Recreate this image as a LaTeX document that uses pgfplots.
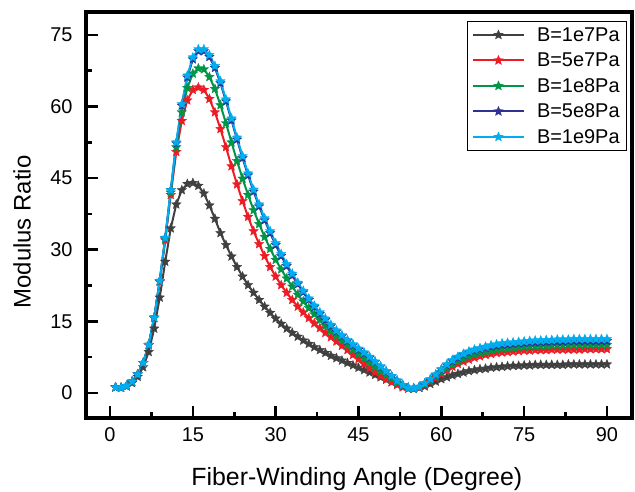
\documentclass[border=0pt]{standalone}
\usepackage{pgfplots}
\pgfplotsset{compat=1.18}
\usepackage{pgfplotstable}
\usepackage{fontspec}
\setmainfont{Liberation Sans}
\definecolor{cK}{RGB}{64,64,64}
\definecolor{cR}{RGB}{237,28,36}
\definecolor{cG}{RGB}{0,150,70}
\definecolor{cD}{RGB}{46,49,146}
\definecolor{cL}{RGB}{0,174,239}
\pgfdeclareplotmark{fstar}{%
 \pgfpathmoveto{\pgfpointpolar{90}{\pgfplotmarksize}}%
 \pgfpathlineto{\pgfpointpolar{126}{0.45\pgfplotmarksize}}%
 \pgfpathlineto{\pgfpointpolar{162}{\pgfplotmarksize}}%
 \pgfpathlineto{\pgfpointpolar{198}{0.45\pgfplotmarksize}}%
 \pgfpathlineto{\pgfpointpolar{234}{\pgfplotmarksize}}%
 \pgfpathlineto{\pgfpointpolar{270}{0.45\pgfplotmarksize}}%
 \pgfpathlineto{\pgfpointpolar{306}{\pgfplotmarksize}}%
 \pgfpathlineto{\pgfpointpolar{342}{0.45\pgfplotmarksize}}%
 \pgfpathlineto{\pgfpointpolar{18}{\pgfplotmarksize}}%
 \pgfpathlineto{\pgfpointpolar{54}{0.45\pgfplotmarksize}}%
 \pgfpathclose
 \pgfusepathqfillstroke}
\pgfplotstableread{
x K R G D L
1 1.2 1.2 1.2 1.2 1.2
2 1.1 1.1 1.1 1.1 1.1
3 1.4 1.5 1.5 1.5 1.5
4 2.1 2.4 2.4 2.4 2.4
5 3.4 3.9 3.9 3.9 3.9
6 5.4 6.3 6.3 6.3 6.3
7 8.6 10.0 10.1 10.1 10.1
8 13.5 15.7 15.8 15.8 15.8
9 20.0 23.3 23.4 23.5 23.5
10 27.5 32.0 32.3 32.5 32.5
11 34.5 41.5 42.0 42.5 42.5
12 39.5 50.5 51.5 52.3 52.5
13 42.5 57.0 58.8 60.2 60.5
14 43.8 61.3 63.9 66.1 66.5
15 44.0 63.5 66.9 69.9 70.3
16 43.4 64.0 68.0 71.6 72.0
17 41.8 63.5 67.8 71.6 72.0
18 39.3 61.6 66.2 70.4 70.8
19 36.5 58.8 63.7 68.1 68.5
20 33.5 55.3 60.3 64.9 65.3
21 31.0 51.5 56.5 61.1 61.5
22 28.6 47.5 52.5 57.1 57.5
23 26.4 43.7 48.6 53.1 53.5
24 24.4 40.2 44.9 49.2 49.6
25 22.6 36.9 41.5 45.6 46.0
26 21.0 33.9 38.3 42.2 42.6
27 19.5 31.2 35.4 39.1 39.5
28 18.1 28.7 32.7 36.2 36.6
29 16.8 26.4 30.2 33.5 33.9
30 15.6 24.4 27.9 31.0 31.4
31 14.5 22.6 25.9 28.7 29.1
32 13.5 21.0 24.0 26.6 27.0
33 12.6 19.5 22.3 24.6 25.0
34 11.8 18.1 20.6 22.8 23.1
35 11.0 16.9 19.2 21.1 21.4
36 10.3 15.7 17.8 19.5 19.8
37 9.6 14.6 16.5 18.0 18.3
38 9.0 13.6 15.3 16.6 16.9
39 8.4 12.6 14.1 15.3 15.6
40 7.8 11.7 13.0 14.0 14.3
41 7.3 10.8 12.0 12.9 13.1
42 6.8 9.9 11.0 11.9 12.1
43 6.3 9.0 10.1 10.9 11.1
44 5.8 8.0 9.1 10.0 10.2
45 5.3 7.1 8.2 9.1 9.3
46 4.8 6.1 7.3 8.3 8.5
47 4.3 5.2 6.4 7.4 7.6
48 3.8 4.4 5.5 6.5 6.6
49 3.3 3.6 4.6 5.5 5.6
50 2.8 2.9 3.8 4.5 4.6
51 2.3 2.3 3.0 3.5 3.6
52 1.8 1.7 2.2 2.6 2.6
53 1.4 1.2 1.5 1.7 1.7
54 1.1 0.9 1.0 1.1 1.1
55 0.9 0.9 0.9 1.0 1.0
56 1.1 1.1 1.2 1.3 1.3
57 1.4 1.7 1.8 2.0 2.0
58 1.9 2.4 2.6 2.8 2.9
59 2.4 3.2 3.5 3.8 3.9
60 2.9 4.0 4.4 4.9 5.0
61 3.3 4.8 5.3 5.8 6.0
62 3.7 5.5 6.0 6.7 6.9
63 4.0 6.1 6.7 7.4 7.6
64 4.3 6.6 7.3 8.0 8.2
65 4.6 7.0 7.7 8.5 8.7
66 4.8 7.4 8.1 8.9 9.1
67 5.0 7.7 8.4 9.2 9.4
68 5.1 8.0 8.7 9.5 9.7
69 5.3 8.2 8.9 9.7 10.0
70 5.4 8.4 9.1 9.9 10.2
71 5.5 8.5 9.3 10.1 10.4
72 5.6 8.6 9.4 10.2 10.5
73 5.7 8.7 9.5 10.3 10.6
74 5.7 8.8 9.6 10.4 10.7
75 5.8 8.9 9.7 10.5 10.8
76 5.8 8.9 9.8 10.6 10.9
77 5.9 9.0 9.8 10.6 11.0
78 5.9 9.0 9.9 10.7 11.0
79 5.9 9.0 9.9 10.7 11.1
80 5.9 9.1 10.0 10.8 11.1
81 5.9 9.1 10.0 10.8 11.2
82 5.9 9.1 10.0 10.8 11.2
83 6.0 9.1 10.1 10.9 11.2
84 6.0 9.1 10.1 10.9 11.3
85 6.0 9.1 10.1 10.9 11.3
86 6.0 9.2 10.1 10.9 11.3
87 6.0 9.2 10.1 10.9 11.3
88 6.0 9.2 10.1 10.9 11.3
89 6.0 9.2 10.1 10.9 11.3
90 6.0 9.2 10.1 10.9 11.3
}\data
\begin{document}
\begin{tikzpicture}
\begin{axis}[name=ax,
  width=546bp, height=406bp, scale only axis,
  xmin=-4.35, xmax=94.53, ymin=-5.24, ymax=79.8,
  every outer x axis line/.append style={line width=3.2bp},
  every outer y axis line/.append style={line width=3.2bp},
  axis line style={line width=3.2bp},
  xtick={0,15,...,90}, ytick={0,15,...,75},
  minor x tick num=1, minor y tick num=1,
  tick align=inside, xtick pos=bottom, ytick pos=left,
  major tick length=12bp, minor tick length=6bp,
  every tick/.style={line width=2.5bp, black},
  /pgf/number format/assume math mode=true,
  ticklabel style={font=\fontsize{20}{20}\selectfont},
  xticklabel style={yshift=-6bp},
  yticklabel style={xshift=-10bp},
  xlabel={Fiber-Winding Angle (Degree)},
  ylabel={Modulus Ratio},
  xlabel style={font=\fontsize{25}{25}\selectfont, at={(axis description cs:0.496,0)}, anchor=center, yshift=-61bp},
  ylabel style={font=\fontsize{24}{24}\selectfont, at={(axis description cs:0,0.458)}, anchor=center, yshift=64bp},
  legend cell align=left,
  legend style={at={(axis description cs:1,1)}, anchor=north east, xshift=-5bp, yshift=-9bp,
    draw=black, line width=0.8bp, font=\fontsize{20}{20}\selectfont,
    inner sep=4bp, row sep=6.5bp,
    nodes={inner sep=3bp, text height=13bp, text depth=0bp},
    /tikz/every odd column/.append style={column sep=9bp}},
  legend image code/.code={\draw[mark repeat=2, mark phase=2, line width=2.2bp] plot coordinates {(0bp,0bp) (25.5bp,0bp) (51bp,0bp)};},
  every axis plot/.append style={line width=2bp, mark=fstar, mark size=5bp, mark options={solid, line width=0.3bp}},
]
\addplot[color=cK] table[x=x, y=K]{\data};
\addlegendentry{B=1e7Pa}
\addplot[color=cR] table[x=x, y=R]{\data};
\addlegendentry{B=5e7Pa}
\addplot[color=cG] table[x=x, y=G]{\data};
\addlegendentry{B=1e8Pa}
\addplot[color=cD] table[x=x, y=D]{\data};
\addlegendentry{B=5e8Pa}
\addplot[color=cL] table[x=x, y=L]{\data};
\addlegendentry{B=1e9Pa}
\end{axis}
\pgfresetboundingbox
\path[use as bounding box] ([shift={(-86bp,-74bp)}]ax.south west) rectangle ([shift={(3bp,12bp)}]ax.north east);
\end{tikzpicture}
\end{document}
